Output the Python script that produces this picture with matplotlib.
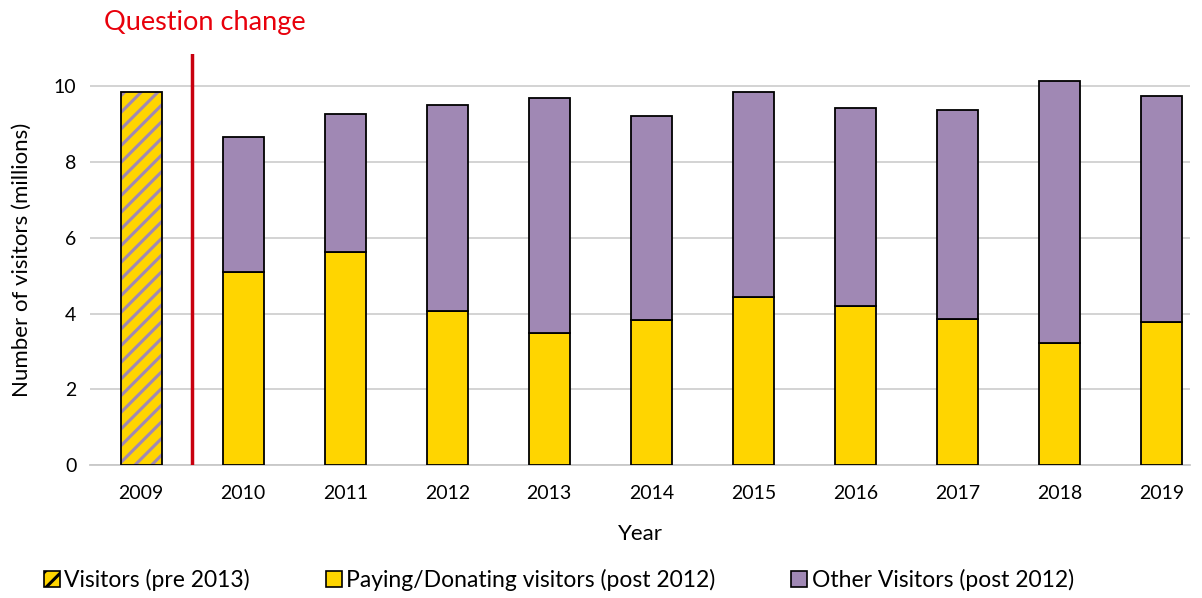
import matplotlib.pyplot as plt
from matplotlib.patches import Patch

# Données (millions de visiteurs)
years = ['2009', '2010', '2011', '2012', '2013', '2014', '2015', '2016', '2017', '2018', '2019']
pre_2013 = [9.84]
paying = [5.09, 5.62, 4.06, 3.48, 3.83, 4.43, 4.20, 3.85, 3.22, 3.77]
total_post = [8.65, 9.26, 9.50, 9.68, 9.21, 9.84, 9.42, 9.37, 10.13, 9.74]
other = [t - p for t, p in zip(total_post, paying)]

yellow = '#FFD500'
purple = '#A088B4'
red = '#C8000F'

plt.rcParams['font.family'] = ['Lato', 'DejaVu Sans']
plt.rcParams['hatch.linewidth'] = 2.2

fig = plt.figure(figsize=(12.02, 5.98), dpi=100)
ax = fig.add_axes([0.075, 0.222, 0.915, 0.688])

x = list(range(len(years)))
w = 0.40

# barre 2009 hachurée (deux couches : hachures puis contour noir)
ax.bar(x[0], pre_2013[0], width=w, color=yellow, edgecolor=purple, hatch='//', linewidth=0, zorder=3)
ax.bar(x[0], pre_2013[0], width=w, fill=False, edgecolor='black', linewidth=1.3, zorder=4)

# barres empilées post 2012
ax.bar(x[1:], paying, width=w, color=yellow, edgecolor='black', linewidth=1.3, zorder=3)
ax.bar(x[1:], other, width=w, bottom=paying, color=purple, edgecolor='black', linewidth=1.3, zorder=3)

ax.set_xlim(-0.5, 10.28)
ax.set_ylim(0, 10.85)
ax.axvline(0.5, color=red, linewidth=2.5, zorder=5)
ax.text(-0.36, 1.075, 'Question change', color='#E8000B', fontsize=19.5,
        transform=ax.get_xaxis_transform(), ha='left', va='center')

ax.set_yticks([0, 2, 4, 6, 8, 10])
ax.set_xticks(x)
ax.set_xticklabels(years)
ax.tick_params(axis='both', length=0, labelsize=14)
ax.tick_params(axis='x', pad=14)
ax.tick_params(axis='y', pad=10)
ax.grid(axis='y', color='#D0D0D0', linewidth=1.3, zorder=0)
ax.set_axisbelow(True)
for s in ['top', 'right', 'left']:
    ax.spines[s].set_visible(False)
ax.spines['bottom'].set_color('#C8C8C8')
ax.spines['bottom'].set_linewidth(1.3)

ax.set_xlabel('Year', fontsize=16, labelpad=16)
ax.set_ylabel('Number of visitors (millions)', fontsize=16, labelpad=16)

handles = [
    Patch(facecolor=yellow, edgecolor='black', hatch='//', linewidth=1.2),
    Patch(facecolor=yellow, edgecolor='black', linewidth=1.2),
    Patch(facecolor=purple, edgecolor='black', linewidth=1.2),
]
labels = ['Visitors (pre 2013)', 'Paying/Donating visitors (post 2012)', 'Other Visitors (post 2012)']
fig.legend(handles, labels, loc='center', bbox_to_anchor=(0.465, 0.03), ncol=3, frameon=False,
           fontsize=16.5, handlelength=0.7, handleheight=0.7, handletextpad=0.2, columnspacing=3.3)

plt.savefig('out.png', dpi=100)
